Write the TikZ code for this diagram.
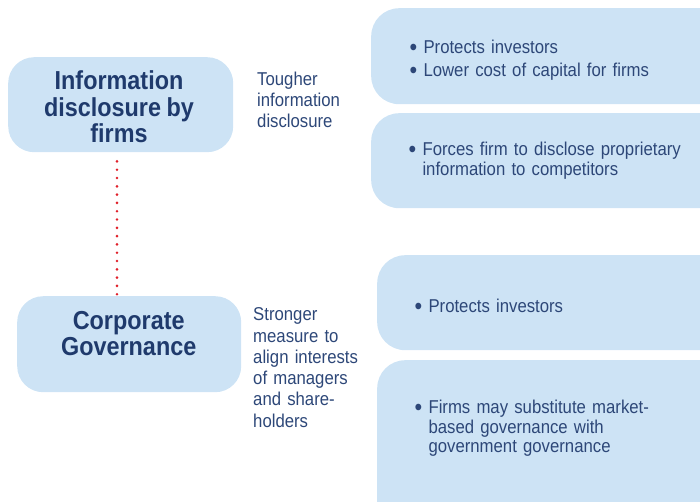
\documentclass[tikz,border=0pt]{standalone}
\usepackage{fontspec}
\setmainfont{Liberation Sans}[FakeStretch=0.9, WordSpace=0.85]
\definecolor{boxfill}{HTML}{CDE3F5}
\definecolor{titlecol}{HTML}{1F3A6C}
\definecolor{bodycol}{HTML}{2D4778}
\definecolor{dotred}{HTML}{E0202A}
\tikzset{
  box/.style={fill=boxfill, draw=none, rounded corners=#1, inner sep=0pt, anchor=north west},
  box/.default=26pt,
  titletext/.style={text=titlecol, align=center, inner sep=0pt, font=\fontsize{26}{26.5}\selectfont\bfseries},
  bodytext/.style={text=bodycol, align=left, inner sep=0pt, anchor=base west, text width=#1},
  bodytext/.default=110pt,
  dotline/.style={dotred, line width=2.9pt, line cap=round, dash pattern=on 0pt off 8.3pt}
}
\newcommand{\bsz}[1]{\fontsize{18.6}{#1}\selectfont}
\newcommand{\blt}{\raisebox{-0.11em}{\scalebox{1.3}{\textbullet}}\ }
\newcommand{\bul}{\hphantom{\blt}}
\begin{document}
\begin{tikzpicture}[x=1pt,y=-1pt]
\useasboundingbox (0,0) rectangle (700,501);
\clip (0,0) rectangle (700,501);
% left boxes
\node[box, minimum width=225pt, minimum height=95pt] (b1) at (8,57) {};
\node[box, minimum width=224pt, minimum height=96pt] (b2) at (17,296) {};
% right boxes
\node[box=28pt, minimum width=360pt, minimum height=96pt] (ra) at (371,8) {};
\node[box=28pt, minimum width=360pt, minimum height=95pt] (rb) at (371,113) {};
\node[box=28pt, minimum width=360pt, minimum height=95pt] (rc) at (377,255) {};
\node[box=28pt, minimum width=360pt, minimum height=170pt] (rd) at (377,360) {};
% titles
\node[titletext] (t1) at (119,107) {Information\\disclosure by\\firms};
\node[titletext] (t2) at (128.7,333.5) {Corporate\\Governance};
% dotted connector
\coordinate (dx) at (117,0);
\draw[dotline] (b1.south -| dx) ++(0,9) -- ([yshift=-2pt]b2.north -| dx);
% middle texts
\node[bodytext=110pt, font=\bsz{21.4}] (m1) at (257,85) {Tougher\\information\\disclosure};
\node[bodytext=115pt, font=\bsz{21.3}] (m2) at (253,320.7) {Stronger\\measure to\\align interests\\of managers\\and share-\\holders};
% right texts
\node[bodytext=280pt, font=\bsz{22.7}] (ta) at (409.5,53.3) {\blt Protects investors\\\blt Lower cost of capital for firms};
\node[bodytext=290pt, font=\bsz{20.6}] (tb) at (408.5,155) {\blt Forces firm to disclose proprietary\\\bul information to competitors};
\node[bodytext=280pt, font=\bsz{20}] (tc) at (414.5,312.7) {\blt Protects investors};
\node[bodytext=280pt, font=\bsz{19.7}] (td) at (414.5,413.3) {\blt Firms may substitute market-\\\bul based governance with\\\bul government governance};
\end{tikzpicture}
\end{document}
